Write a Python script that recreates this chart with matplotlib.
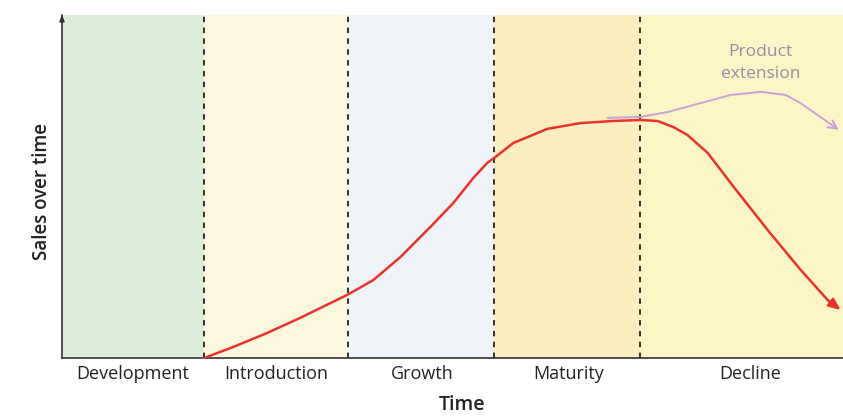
import matplotlib
matplotlib.use("Agg")
import matplotlib.pyplot as plt

# ---- data ----
stages = ["Development", "Introduction", "Growth", "Maturity", "Decline"]
stage_bounds = [0, 0.983, 1.979, 2.990, 3.993, 5.4]
stage_label_x = [0.49, 1.48, 2.49, 3.50, 4.76]
stage_colors = ["#dcedd9", "#fbf8df", "#f0f3f8", "#fdeec2", "#fcf5c6"]
divider_x = [0.983, 1.979, 2.990, 3.993]

sales_x = [0.983, 1.183, 1.419, 1.647, 1.972, 2.152, 2.339, 2.478, 2.547, 2.706,
           2.844, 2.941, 2.997, 3.121, 3.356, 3.585, 3.813, 4.000, 4.118, 4.228,
           4.325, 4.464, 4.644, 4.879, 5.107, 5.294, 5.384]
sales_y = [0.0, 3.2, 7.3, 11.7, 18.4, 22.7, 29.4, 35.3, 38.2, 45.2,
           52.5, 56.9, 58.6, 62.7, 66.8, 68.5, 69.1, 69.4, 69.1, 67.3,
           65.0, 59.8, 49.9, 37.3, 25.7, 16.9, 14.0]

ext_x = [3.772, 4.000, 4.187, 4.415, 4.623, 4.830, 5.003, 5.107, 5.246, 5.370]
ext_y = [70.0, 70.3, 71.7, 74.3, 76.7, 77.6, 76.7, 74.3, 70.2, 66.5]

plt.rcParams['font.family'] = ['Open Sans', 'DejaVu Sans']

fig = plt.figure(figsize=(8.43, 4.18), dpi=100)
ax = fig.add_axes([62/843, 60/418, 781/843, 343/418])
ax.set_xlim(0, 5.4)
ax.set_ylim(0, 100)

for i in range(len(stages)):
    ax.axvspan(stage_bounds[i], stage_bounds[i+1], color=stage_colors[i], lw=0, zorder=0)

for x in divider_x:
    ax.axvline(x, color="#222222", lw=1.3, ls=(0, (3, 3)), zorder=2)

ax.plot(sales_x[:-1], sales_y[:-1], color="#e8342b", lw=1.8, zorder=3,
        solid_capstyle='round', solid_joinstyle='round')
ax.annotate("", xy=(sales_x[-1], sales_y[-1]), xytext=(sales_x[-2], sales_y[-2]),
            arrowprops=dict(arrowstyle="-|>,head_length=0.7,head_width=0.3", color="#e8342b", lw=1.8,
                            shrinkA=0, shrinkB=0), zorder=3)

ax.plot(ext_x[:-1], ext_y[:-1], color="#c8a3d6", lw=1.4, zorder=3,
        solid_capstyle='round', solid_joinstyle='round')
ax.annotate("", xy=(ext_x[-1], ext_y[-1]), xytext=(ext_x[-2], ext_y[-2]),
            arrowprops=dict(arrowstyle="->,head_length=0.6,head_width=0.3", color="#c8a3d6", lw=1.4,
                            shrinkA=0, shrinkB=0), zorder=3)

ax.text(4.83, 86.0, "Product\nextension", ha="center", va="center", fontsize=12.5,
        color="#9a8ca6", linespacing=1.45)

for s in ["top", "right"]:
    ax.spines[s].set_visible(False)
ax.spines["left"].set_color("#333333")
ax.spines["bottom"].set_color("#333333")
ax.spines["left"].set_linewidth(1.2)
ax.spines["bottom"].set_linewidth(1.2)
ax.annotate("", xy=(0, 101), xytext=(0, 97),
            arrowprops=dict(arrowstyle="-|>,head_length=0.4,head_width=0.15", color="#333333", lw=1),
            annotation_clip=False)

ax.set_yticks([])
ax.set_xticks(stage_label_x)
ax.set_xticklabels(stages, fontsize=13, color="#222222")
ax.tick_params(axis="x", length=0, pad=5)

fig.text(42/843, 1 - 191/418, "Sales over time", rotation=90, ha="center", va="center",
         fontsize=13.5, fontweight="semibold", color="#222222")
fig.text(462/843, 1 - 405/418, "Time", ha="center", va="center", fontsize=14,
         fontweight="semibold", color="#222222")

fig.savefig("out.png", dpi=100)
